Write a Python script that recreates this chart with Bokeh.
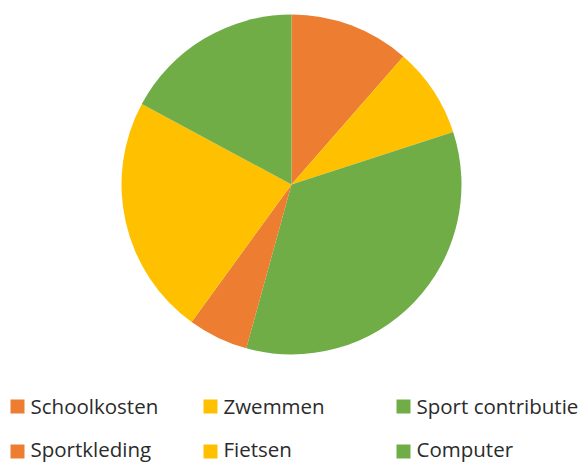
import math
from bokeh.plotting import figure
from bokeh.models import Range1d, ColumnDataSource
from bokeh.core.properties import value
from bokeh.embed import file_html
from bokeh.resources import INLINE

categories = ["Schoolkosten", "Zwemmen", "Sport contributie", "Sportkleding", "Fietsen", "Computer"]
amounts = [400, 300, 1200, 200, 800, 600]
colors = ["#ED7D31", "#FFC000", "#70AD47", "#ED7D31", "#FFC000", "#70AD47"]

W, H = 586, 463
p = figure(width=W, height=H, output_backend="svg", toolbar_location=None,
           x_range=Range1d(0, W), y_range=Range1d(0, H), min_border=0)
p.axis.visible = False
p.grid.visible = False
p.outline_line_color = None
p.background_fill_color = "white"
p.border_fill_color = "white"

total = sum(amounts)
starts, ends = [], []
cum = 0.0
for a in amounts:
    starts.append(math.pi / 2 - 2 * math.pi * cum / total)
    cum += a
    ends.append(math.pi / 2 - 2 * math.pi * cum / total)

cx, cy, r = 291, H - 184, 170
src = ColumnDataSource(dict(start=starts, end=ends, color=colors, cat=categories))
p.wedge(x=cx, y=cy, radius=r, start_angle="start", end_angle="end", direction="clock",
        fill_color="color", line_color=None, source=src)

# legend: 3 columns x 2 rows
col_x = [10, 203, 396]
row_sq = [H - 406, H - 451]
row_txt = [H - 405, H - 448]
lx, ly, tx, ty = [], [], [], []
for i, c in enumerate(categories):
    col = i % 3
    row = i // 3
    lx.append(col_x[col] + 7)
    ly.append(row_sq[row])
    tx.append(col_x[col] + 20)
    ty.append(row_txt[row])
lsrc = ColumnDataSource(dict(x=lx, y=ly, tx=tx, ty=ty, color=colors, cat=categories))
p.rect(x="x", y="y", width=14, height=14, fill_color="color", line_color=None, source=lsrc)
p.text(x="tx", y="ty", text="cat", source=lsrc, text_font=value("Open Sans"),
       text_font_size="20.5px", text_color="#2b2b2b", text_baseline="middle", text_align="left")

open("out.html", "w").write(file_html(p, INLINE))
